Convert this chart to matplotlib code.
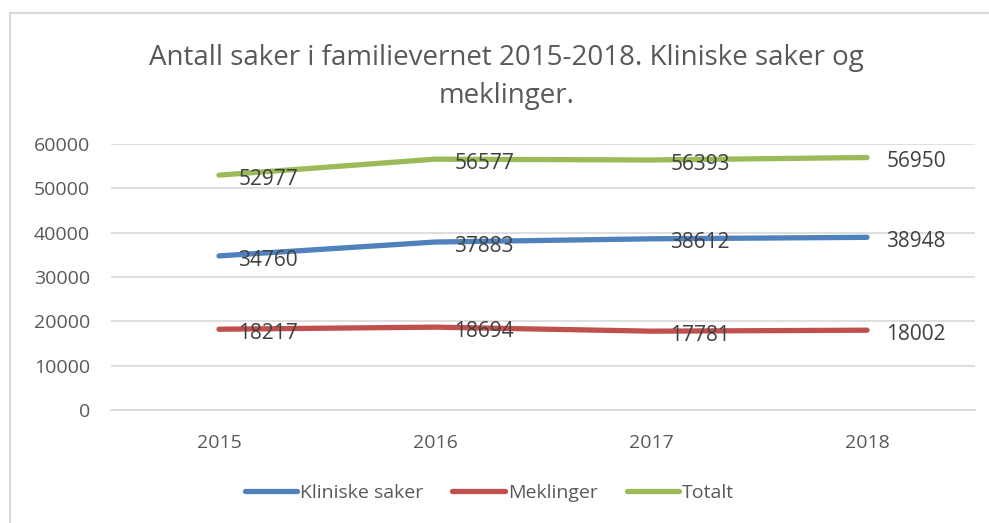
import matplotlib.pyplot as plt
from matplotlib.lines import Line2D

years = ["2015", "2016", "2017", "2018"]
kliniske = [34760, 37883, 38612, 38948]
meklinger = [18217, 18694, 17781, 18002]
totalt = [52977, 56577, 56393, 56950]

series = [
    ("Kliniske saker", kliniske, "#4F81BD"),
    ("Meklinger", meklinger, "#C0504D"),
    ("Totalt", totalt, "#9BBB59"),
]


def main():
    plt.rcParams["font.family"] = ["Open Sans", "DejaVu Sans"]
    fig = plt.figure(figsize=(9.89, 5.23), dpi=100)
    ax = fig.add_axes([111 / 989, 1 - 410 / 523, 864 / 989, 266 / 523])

    x = range(len(years))
    for name, vals, color in series:
        ax.plot(x, vals, color=color, linewidth=3.8, solid_capstyle="round", label=name)
        for xi, v in zip(x, vals):
            ax.annotate(str(v), (xi, v), xytext=(14, -3), textcoords="offset points",
                        ha="left", va="center", fontsize=15, color="#404040")

    ax.set_xlim(-0.5, 3.5)
    ax.set_ylim(0, 60000)
    ax.set_yticks(range(0, 60001, 10000))
    ax.set_xticks(list(x))
    ax.set_xticklabels(years)
    ax.grid(axis="y", color="#D9D9D9", linewidth=1.2)
    ax.set_axisbelow(True)
    for s in ["top", "right", "left"]:
        ax.spines[s].set_visible(False)
    ax.spines["bottom"].set_color("#D9D9D9")
    ax.spines["bottom"].set_linewidth(1.2)
    ax.tick_params(length=0, labelsize=14, labelcolor="#595959")
    ax.tick_params(axis="x", pad=17)
    ax.tick_params(axis="y", pad=15)

    fig.text(0.512, 1 - 58 / 523, "Antall saker i familievernet 2015-2018. Kliniske saker og",
             ha="center", va="center", fontsize=20, color="#595959")
    fig.text(0.512, 1 - 96 / 523, "meklinger.", ha="center", va="center",
             fontsize=20, color="#595959")

    handles = [Line2D([], [], color=c, linewidth=3.8, solid_capstyle="round") for _, _, c in series]
    fig.legend(handles, [n for n, _, _ in series], loc="center", bbox_to_anchor=(0.495, 1 - 493 / 523),
               ncol=3, frameon=False, fontsize=14, labelcolor="#595959",
               handlelength=2.7, handletextpad=0.15, columnspacing=1.5)

    # chart border (left and top only visible in the crop)
    fig.add_artist(Line2D([10 / 989, 10 / 989], [0, 1 - 13 / 523], color="#D9D9D9", linewidth=1.5))
    fig.add_artist(Line2D([10 / 989, 1], [1 - 13 / 523, 1 - 13 / 523], color="#D9D9D9", linewidth=1.5))

    fig.savefig("out.png", dpi=100)


if __name__ == "__main__":
    main()
